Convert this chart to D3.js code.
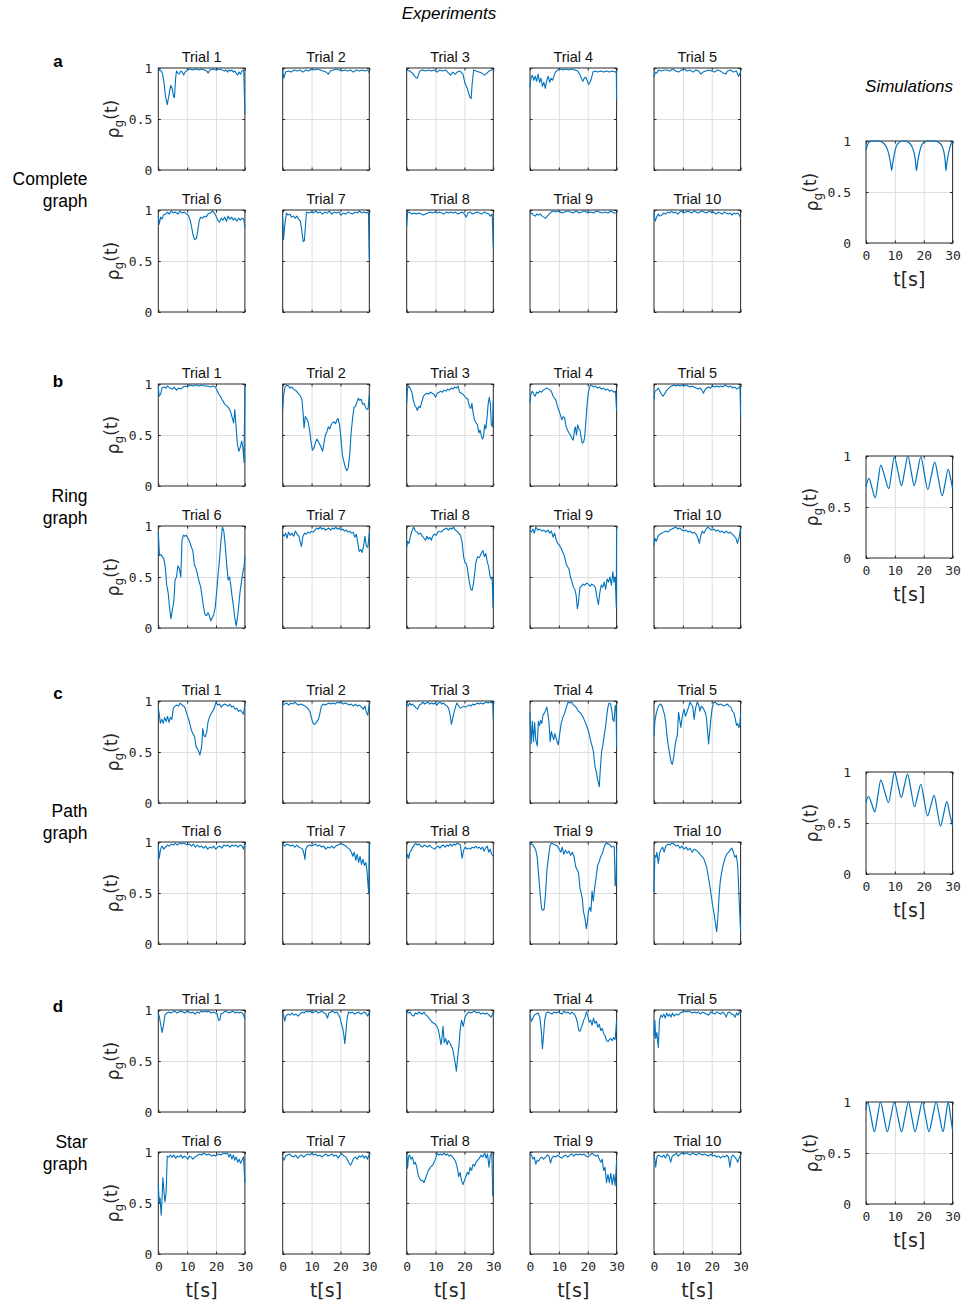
<!DOCTYPE html>
<html>
<head>
<meta charset="utf-8">
<script src="https://cdn.jsdelivr.net/npm/d3@7"></script>
<style>
  body { margin: 0; background: #fff; }
  svg { display: block; }
</style>
</head>
<body>
<div id="chart"></div>
<script>
// ---- data: [t (s), rho_g] ----
const xTicks = [0, 10, 20, 30];
const yTicks = [0, 0.5, 1];
const trialNames = d3.range(1, 11).map(i => "Trial " + i);
const graphNames = [["Complete", "graph"], ["Ring", "graph"], ["Path", "graph"], ["Star", "graph"]];
const panelLetters = ["a", "b", "c", "d"];

const completeTrials = [
  [[0,.97],[0.5,.98],[1,.97],[1.5,.94],[2,.85],[2.5,.72],[3.1,.64],[3.6,.72],[4.3,.83],[4.8,.8],[5.3,.72],[5.6,.71],[6,.9],[6.3,.97],[6.8,.95],[7.3,.94],[7.8,.97],[8.3,.96],[8.8,.93],[9.3,.96],[10,.98],[11,.99],[12,.98],[13,.99],[14,.98],[15,.99],[16,.98],[16.8,.97],[17.3,.95],[17.8,.98],[19,.99],[20,.98],[21,.99],[22,.98],[23,.97],[23.5,.98],[24,.96],[24.5,.98],[25,.97],[25.5,.98],[26,.96],[26.5,.97],[27,.95],[27.5,.93],[28,.96],[28.5,.94],[29,.97],[29.6,.98],[29.8,.75],[30,.55]],
  [[0,.97],[0.4,.9],[1,.96],[2,.97],[3,.96],[4,.98],[5,.97],[6,.98],[7,.96],[8,.98],[9,.97],[10,.99],[11,.98],[12,.99],[13,.98],[14,.97],[15,.96],[15.8,.94],[16.5,.97],[17.5,.98],[18.5,.99],[19.5,.98],[20.5,.97],[21.5,.98],[22.5,.97],[23.5,.98],[24.5,.96],[25.5,.98],[26.5,.97],[27.5,.98],[28.5,.97],[29.5,.98],[30,.95]],
  [[0,.98],[1,.97],[2,.95],[3,.91],[3.7,.9],[4.5,.97],[5.5,.98],[6.5,.97],[7.5,.98],[8.5,.97],[9.5,.98],[10.5,.96],[11.5,.98],[12.5,.97],[13.5,.98],[14.5,.95],[15.2,.93],[16,.96],[16.8,.94],[17.5,.96],[18.5,.97],[19.5,.94],[20.2,.85],[21,.8],[21.8,.72],[22.3,.7],[22.7,.85],[23.2,.98],[24,.97],[25,.96],[26,.95],[27,.93],[27.8,.95],[28.5,.97],[29.5,.98],[30,.99]],
  [[0,.81],[0.3,.9],[0.8,.93],[1.3,.88],[1.8,.92],[2.3,.87],[2.8,.94],[3.3,.86],[3.8,.9],[4.3,.82],[4.8,.86],[5.3,.8],[5.8,.88],[6.3,.92],[6.8,.86],[7.3,.9],[7.8,.88],[8.3,.92],[8.8,.96],[9.5,.98],[10.5,.99],[11.5,.98],[12.5,.99],[13.5,.98],[14.5,.99],[15.5,.98],[16.5,.97],[17.2,.94],[17.8,.9],[18.3,.87],[18.8,.9],[19.3,.91],[19.8,.88],[20.3,.84],[20.8,.86],[21.3,.9],[21.8,.96],[22.5,.97],[23.5,.96],[24.5,.97],[25.5,.96],[26.5,.97],[27.5,.96],[28.5,.97],[29.5,.96],[29.9,.97],[30,.68]],
  [[0,.91],[0.5,.96],[1,.95],[1.5,.98],[2.5,.97],[3.5,.98],[4.5,.98],[5.5,.97],[6.5,.99],[7.5,.97],[8.5,.96],[9.5,.98],[10.5,.99],[11.5,.97],[12.5,.98],[13.5,.96],[14.5,.98],[15.5,.97],[16.3,.94],[17,.96],[18,.97],[19,.98],[20,.97],[21,.96],[22,.98],[23,.97],[24,.95],[24.8,.94],[25.5,.97],[26.5,.98],[27.5,.96],[28.5,.97],[29.3,.92],[29.7,.94],[30,.97]],
  [[0,.94],[0.3,.86],[0.8,.93],[1.3,.91],[1.8,.95],[2.5,.96],[3.2,.98],[3.8,.96],[4.5,.99],[5.2,.97],[6,.98],[6.8,.96],[7.5,.99],[8.2,.97],[9,.98],[9.8,.96],[10.4,.95],[11,.9],[11.5,.84],[12,.76],[12.6,.71],[13.2,.72],[13.7,.8],[14.2,.9],[14.7,.93],[15.3,.92],[15.9,.94],[16.5,.93],[17.2,.96],[18,.97],[18.8,.99],[19.4,.97],[20,.94],[20.6,.9],[21.2,.88],[21.8,.92],[22.4,.9],[23,.93],[23.6,.89],[24.2,.94],[24.8,.91],[25.4,.93],[26,.9],[26.6,.92],[27.2,.89],[27.8,.92],[28.4,.9],[29,.92],[29.6,.91],[30,.83]],
  [[0,.93],[0.3,.71],[0.7,.85],[1.3,.97],[1.9,.95],[2.5,.96],[3.1,.93],[3.7,.94],[4.3,.92],[4.9,.94],[5.5,.91],[6.1,.89],[6.6,.8],[7.1,.69],[7.5,.7],[7.9,.85],[8.2,.98],[9,.97],[9.8,.98],[10.6,.97],[11.4,.99],[12.2,.97],[13,.98],[13.8,.96],[14.6,.98],[15.4,.97],[16.2,.99],[17,.96],[17.8,.98],[18.6,.97],[19.4,.98],[20.2,.95],[21,.97],[21.8,.96],[22.6,.98],[23.4,.97],[24.2,.96],[25,.98],[25.8,.97],[26.6,.99],[27.4,.97],[28.2,.98],[29,.97],[29.7,.98],[30,.52]],
  [[0,.84],[0.3,.97],[1,.98],[1.8,.96],[2.6,.97],[3.4,.96],[4.2,.97],[5,.96],[5.8,.95],[6.5,.96],[7.3,.97],[8.1,.98],[8.9,.97],[9.7,.98],[10.5,.97],[11.3,.98],[12.1,.97],[12.9,.96],[13.7,.98],[14.5,.97],[15.3,.98],[16.1,.97],[16.9,.98],[17.7,.96],[18.5,.97],[19.3,.98],[20,.96],[20.6,.93],[21.2,.97],[22,.98],[22.8,.96],[23.6,.97],[24.4,.98],[25.2,.97],[26,.96],[26.8,.98],[27.6,.97],[28.4,.96],[29,.94],[29.6,.96],[30,.64]],
  [[0,.96],[0.6,.97],[1.2,.95],[1.8,.94],[2.4,.96],[3,.95],[3.6,.96],[4.2,.94],[4.8,.93],[5.4,.92],[6,.94],[6.6,.96],[7.3,.98],[8,.99],[9,.98],[10,.99],[11,.97],[12,.98],[13,.99],[14,.98],[15,.97],[16,.99],[17,.97],[18,.98],[19,.99],[20,.97],[21,.98],[22,.97],[23,.99],[24,.98],[25,.97],[26,.98],[27,.97],[28,.99],[29,.97],[30,.97]],
  [[0,.97],[0.4,.89],[0.9,.93],[1.5,.96],[2.1,.94],[2.7,.95],[3.3,.97],[4,.96],[4.7,.98],[5.4,.97],[6.1,.99],[6.8,.97],[7.5,.98],[8.2,.96],[8.9,.98],[9.6,.99],[10.3,.97],[11,.98],[11.7,.99],[12.4,.98],[13.1,.97],[13.8,.99],[14.5,.98],[15.2,.97],[15.9,.98],[16.6,.99],[17.3,.98],[18,.97],[18.7,.98],[19.4,.99],[20.1,.97],[20.8,.98],[21.5,.96],[22.2,.98],[22.9,.97],[23.6,.96],[24.3,.98],[25,.97],[25.7,.96],[26.4,.97],[27,.95],[27.6,.97],[28.3,.96],[29,.97],[29.6,.95],[30,.92]]
];

const ringTrials = [
  [[0,.98],[0.3,.88],[0.8,.9],[1.3,.96],[2,.97],[2.6,.96],[3.2,.98],[4,.96],[4.8,.95],[5.5,.97],[6.3,.94],[7,.96],[7.8,.95],[8.5,.97],[9.3,.98],[10,.97],[11,.99],[12,.98],[13,.99],[14,.98],[15,.99],[16,.98],[17,.98],[18,.97],[19,.98],[19.8,.97],[20.4,.93],[21,.9],[21.5,.88],[22,.85],[22.5,.83],[23,.8],[23.5,.79],[24,.78],[24.5,.76],[25,.73],[25.5,.68],[26.1,.62],[26.5,.75],[26.9,.6],[27.4,.41],[27.9,.34],[28.4,.38],[28.9,.44],[29.3,.38],[29.7,.23],[30,.98]],
  [[0,.75],[0.3,.88],[0.8,.97],[1.4,.99],[2,.98],[2.6,.96],[3.2,.97],[3.8,.95],[4.4,.94],[5,.92],[5.6,.9],[6.2,.88],[6.7,.84],[7.1,.7],[7.4,.57],[7.8,.68],[8.3,.66],[8.8,.63],[9.3,.55],[9.8,.44],[10.3,.35],[10.8,.37],[11.3,.42],[11.8,.46],[12.3,.44],[12.8,.41],[13.3,.38],[13.8,.34],[14.3,.42],[14.8,.5],[15.3,.53],[15.8,.58],[16.3,.56],[16.8,.6],[17.3,.62],[17.8,.63],[18.3,.61],[18.8,.65],[19.2,.66],[19.7,.6],[20.2,.46],[20.7,.3],[21.2,.24],[21.7,.18],[22.2,.15],[22.7,.18],[23.2,.3],[23.7,.52],[24.2,.66],[24.7,.77],[25.2,.78],[25.7,.82],[26.2,.86],[26.7,.84],[27.2,.85],[27.7,.8],[28.2,.81],[28.7,.77],[29.2,.75],[29.6,.76],[30,.9]],
  [[0,.81],[0.3,.96],[0.8,.98],[1.3,.95],[1.8,.92],[2.3,.84],[2.8,.79],[3.3,.77],[3.7,.74],[4.2,.78],[4.7,.77],[5.2,.82],[5.8,.88],[6.4,.9],[7,.91],[7.6,.9],[8.2,.92],[8.8,.91],[9.5,.9],[10,.87],[10.6,.91],[11.2,.92],[11.8,.93],[12.4,.92],[13,.94],[13.6,.93],[14.2,.95],[14.8,.94],[15.4,.96],[16,.95],[16.6,.97],[17.2,.96],[17.8,.98],[18.3,.92],[18.9,.91],[19.5,.9],[20.1,.88],[20.7,.86],[21.2,.85],[21.7,.78],[22.2,.76],[22.6,.81],[23,.72],[23.5,.65],[24,.62],[24.5,.6],[25,.52],[25.4,.55],[25.8,.5],[26.2,.46],[26.6,.48],[27,.6],[27.4,.56],[27.8,.66],[28.2,.8],[28.6,.87],[29,.8],[29.3,.6],[29.7,.58],[30,.85]],
  [[0,.82],[0.3,.9],[0.8,.93],[1.3,.9],[1.8,.88],[2.3,.92],[2.8,.91],[3.4,.93],[4,.92],[4.6,.94],[5.2,.95],[5.8,.96],[6.4,.95],[7,.94],[7.5,.92],[8,.88],[8.5,.86],[9,.84],[9.5,.78],[10,.74],[10.5,.7],[11,.65],[11.5,.68],[12,.67],[12.5,.58],[13,.55],[13.5,.52],[14,.5],[14.5,.47],[15,.45],[15.4,.55],[15.7,.58],[16.1,.5],[16.5,.6],[16.9,.56],[17.3,.55],[17.7,.48],[18.1,.42],[18.6,.43],[19,.5],[19.4,.65],[19.8,.81],[20.3,.93],[20.8,.98],[21.3,.99],[22,.97],[22.7,.98],[23.4,.96],[24.1,.97],[24.8,.95],[25.5,.96],[26.2,.94],[26.9,.95],[27.6,.93],[28.3,.94],[29,.92],[29.6,.93],[30,.74]],
  [[0,.85],[0.3,.93],[0.9,.94],[1.5,.96],[2,.93],[2.6,.9],[3.1,.88],[3.6,.9],[4.2,.93],[4.8,.95],[5.5,.97],[6.2,.98],[6.9,.99],[7.6,.98],[8.3,.99],[9,.98],[9.7,.99],[10.4,.98],[11.1,.99],[11.8,.98],[12.5,.97],[13.2,.98],[13.9,.97],[14.6,.96],[15.3,.95],[16,.96],[16.6,.94],[17.1,.91],[17.6,.94],[18.2,.96],[18.9,.97],[19.6,.96],[20.3,.98],[21,.97],[21.7,.98],[22.4,.97],[23.1,.98],[23.8,.97],[24.5,.99],[25.2,.98],[25.9,.97],[26.6,.98],[27.3,.96],[28,.97],[28.7,.95],[29.3,.96],[29.8,.98],[30,.67]],
  [[0,.94],[0.4,.71],[0.9,.72],[1.4,.7],[1.9,.68],[2.4,.6],[2.9,.42],[3.4,.35],[3.9,.2],[4.4,.09],[4.9,.18],[5.4,.27],[5.8,.47],[6.3,.5],[6.8,.61],[7.3,.58],[7.8,.5],[8.2,.86],[8.7,.91],[9.2,.9],[9.7,.91],[10.3,.88],[10.8,.85],[11.4,.8],[12,.75],[12.5,.62],[13.1,.58],[13.6,.52],[14.2,.45],[14.7,.4],[15.2,.3],[15.7,.2],[16.2,.13],[16.7,.12],[17.2,.15],[17.7,.12],[18.2,.07],[18.7,.1],[19.2,.13],[19.7,.2],[20.2,.35],[20.7,.52],[21.2,.67],[21.7,.85],[22.2,.99],[22.7,.95],[23.2,.8],[23.7,.62],[24.2,.47],[24.7,.5],[25.1,.42],[25.6,.3],[26,.22],[26.5,.1],[27,.02],[27.4,.1],[27.8,.2],[28.3,.35],[28.8,.45],[29.3,.55],[29.7,.6],[30,.7]],
  [[0,.92],[0.5,.9],[1,.93],[1.5,.88],[2,.94],[2.6,.91],[3.2,.93],[3.8,.9],[4.4,.95],[5,.92],[5.6,.9],[6.1,.84],[6.5,.8],[7,.9],[7.6,.93],[8.2,.92],[8.8,.94],[9.4,.93],[10,.95],[10.6,.94],[11.2,.96],[11.8,.98],[12.4,.97],[13,.99],[13.6,.97],[14.2,.98],[14.8,.96],[15.4,.97],[16,.98],[16.6,.96],[17.2,.98],[17.8,.97],[18.4,.99],[19,.97],[19.6,.98],[20.2,.96],[20.8,.97],[21.4,.95],[22,.96],[22.6,.94],[23.2,.95],[23.8,.93],[24.4,.94],[25,.89],[25.5,.92],[26,.84],[26.5,.75],[27,.77],[27.5,.74],[28,.8],[28.5,.9],[29,.8],[29.5,.79],[30,.93]],
  [[0,.79],[0.3,.85],[0.8,.83],[1.3,.9],[1.8,.95],[2.4,.99],[3,.95],[3.6,.94],[4.2,.92],[4.8,.93],[5.4,.9],[6,.88],[6.5,.86],[7,.9],[7.5,.87],[8,.89],[8.5,.86],[9,.9],[9.6,.92],[10.2,.91],[10.8,.94],[11.4,.95],[12,.94],[12.6,.96],[13.2,.97],[13.8,.98],[14.4,.96],[15,.98],[15.6,.97],[16.2,.99],[16.8,.96],[17.4,.95],[18,.93],[18.6,.91],[19.2,.84],[19.7,.7],[20.2,.64],[20.7,.63],[21.2,.55],[21.7,.45],[22.2,.38],[22.7,.37],[23.2,.45],[23.6,.55],[24,.65],[24.6,.7],[25.2,.69],[25.8,.73],[26.4,.76],[26.9,.7],[27.4,.73],[27.9,.65],[28.4,.6],[28.9,.5],[29.3,.48],[29.6,.5],[29.9,.2],[30,.45]],
  [[0,.96],[0.5,.94],[1,.97],[1.5,.93],[2,.99],[2.7,.96],[3.4,.97],[4.1,.95],[4.8,.96],[5.5,.94],[6.2,.96],[6.8,.93],[7.4,.95],[8,.89],[8.5,.93],[9,.87],[9.6,.83],[10.2,.81],[10.8,.78],[11.4,.74],[12,.7],[12.5,.63],[13,.6],[13.5,.58],[14,.5],[14.5,.46],[15,.4],[15.5,.38],[16,.32],[16.4,.19],[16.8,.25],[17.3,.4],[17.8,.41],[18.4,.43],[19,.42],[19.6,.44],[20.2,.43],[20.8,.41],[21.4,.43],[22,.42],[22.6,.4],[23.2,.3],[23.7,.23],[24.2,.35],[24.7,.42],[25.2,.4],[25.7,.45],[26.2,.38],[26.7,.48],[27.2,.45],[27.7,.5],[28.2,.42],[28.7,.55],[29.1,.45],[29.5,.5],[29.9,.2],[30,.99]],
  [[0,.81],[0.3,.88],[0.8,.85],[1.4,.9],[2,.92],[2.7,.93],[3.4,.94],[4.1,.95],[4.8,.94],[5.5,.96],[6.2,.97],[6.9,.98],[7.6,.99],[8.3,.97],[9,.98],[9.7,.96],[10.4,.95],[11.1,.96],[11.8,.94],[12.5,.95],[13.2,.93],[13.9,.94],[14.6,.92],[15.2,.88],[15.7,.83],[16.2,.9],[16.7,.95],[17.3,.93],[18,.97],[18.7,.99],[19.4,.97],[20.1,.96],[20.8,.97],[21.5,.95],[22.2,.96],[22.9,.94],[23.6,.95],[24.3,.93],[25,.95],[25.7,.93],[26.4,.94],[27.1,.92],[27.8,.9],[28.4,.88],[28.9,.83],[29.4,.88],[29.7,.92],[30,.99]]
];

const pathTrials = [
  [[0,.93],[0.3,.88],[0.7,.78],[1.2,.82],[1.7,.78],[2.2,.84],[2.7,.8],[3.2,.85],[3.7,.79],[4.2,.84],[4.7,.82],[5.2,.93],[5.8,.95],[6.4,.96],[7,.95],[7.6,.98],[8.2,.96],[8.8,.95],[9.3,.93],[9.8,.88],[10.3,.84],[10.9,.78],[11.5,.71],[12,.68],[12.6,.65],[13.1,.55],[13.6,.53],[14.1,.5],[14.4,.47],[14.8,.52],[15.1,.58],[15.4,.73],[15.8,.66],[16.3,.65],[16.8,.7],[17.2,.79],[17.7,.84],[18.2,.87],[18.8,.9],[19.4,.93],[20,.99],[20.6,.96],[21.2,.97],[21.8,.94],[22.4,.96],[23,.97],[23.6,.96],[24.2,.95],[24.8,.97],[25.4,.94],[26,.95],[26.6,.92],[27.2,.93],[27.8,.9],[28.4,.91],[29,.89],[29.5,.87],[30,.97]],
  [[0,.96],[0.7,.97],[1.4,.98],[2.1,.96],[2.8,.98],[3.5,.97],[4.2,.99],[4.9,.97],[5.6,.96],[6.3,.97],[7,.96],[7.7,.95],[8.3,.94],[8.9,.92],[9.4,.9],[9.9,.84],[10.4,.79],[10.9,.77],[11.4,.78],[11.9,.8],[12.4,.82],[12.9,.88],[13.4,.95],[14,.97],[14.7,.96],[15.4,.97],[16.1,.98],[16.8,.97],[17.5,.98],[18.2,.97],[18.9,.99],[19.6,.98],[20.3,.99],[21,.97],[21.7,.98],[22.4,.97],[23.1,.96],[23.8,.97],[24.5,.95],[25.2,.97],[25.9,.95],[26.6,.96],[27.3,.94],[27.9,.92],[28.5,.95],[29,.89],[29.5,.86],[30,.98]],
  [[0,.97],[0.5,.95],[1,.98],[1.5,.96],[2,.97],[2.7,.95],[3.3,.93],[3.8,.92],[4.4,.96],[5,.97],[5.6,.99],[6.2,.97],[6.8,.98],[7.4,.99],[8,.97],[8.6,.98],[9.2,.97],[9.8,.98],[10.4,.96],[11,.98],[11.6,.99],[12.2,.97],[12.8,.98],[13.4,.96],[14,.95],[14.5,.93],[15,.87],[15.5,.77],[16,.84],[16.5,.9],[17,.95],[17.4,.98],[18,.95],[18.6,.93],[19.2,.94],[19.8,.95],[20.4,.94],[21,.95],[21.6,.96],[22.2,.95],[22.8,.97],[23.4,.96],[24,.97],[24.6,.98],[25.2,.97],[25.8,.98],[26.4,.97],[27,.98],[27.6,.99],[28.2,.98],[28.8,.99],[29.5,.98],[29.8,.99],[30,.83]],
  [[0,.89],[0.4,.58],[0.8,.8],[1.2,.6],[1.6,.79],[2,.62],[2.5,.56],[2.9,.8],[3.3,.76],[3.7,.81],[4.1,.78],[4.5,.86],[4.9,.88],[5.3,.9],[5.8,.94],[6.2,.88],[6.6,.78],[7,.6],[7.4,.7],[7.8,.66],[8.2,.62],[8.6,.68],[9,.64],[9.4,.6],[9.8,.57],[10.3,.68],[10.8,.78],[11.4,.84],[12,.88],[12.6,.94],[13.2,.99],[13.8,.98],[14.4,.99],[15,.96],[15.6,.95],[16.2,.93],[16.7,.9],[17.2,.89],[17.8,.87],[18.4,.84],[19,.8],[19.6,.76],[20.2,.71],[20.7,.65],[21.1,.6],[21.6,.55],[22,.5],[22.5,.36],[23,.3],[23.5,.22],[24,.16],[24.4,.35],[24.8,.5],[25.3,.58],[25.8,.68],[26.2,.75],[26.6,.86],[27,.94],[27.4,.98],[27.9,.97],[28.3,.92],[28.7,.82],[29.1,.8],[29.5,.95],[29.8,.96],[30,.55]],
  [[0,.66],[0.3,.8],[0.8,.88],[1.3,.93],[1.8,.96],[2.3,.97],[2.8,.95],[3.3,.9],[3.7,.86],[4.1,.78],[4.5,.66],[5,.55],[5.5,.47],[6,.39],[6.4,.38],[6.8,.45],[7.3,.56],[7.7,.63],[8.1,.66],[8.5,.89],[8.9,.82],[9.3,.74],[9.8,.85],[10.4,.92],[10.9,.85],[11.5,.9],[12.1,.95],[12.5,.99],[13,.96],[13.4,.95],[13.9,.82],[14.4,.93],[15,.99],[15.5,.96],[15.9,.9],[16.4,.95],[17,.93],[17.6,.9],[18.1,.85],[18.5,.72],[18.9,.58],[19.3,.7],[19.7,.82],[20.1,.92],[20.6,.98],[21.2,.99],[21.8,.97],[22.4,.96],[23,.97],[23.6,.96],[24.2,.95],[24.8,.96],[25.4,.97],[26,.95],[26.6,.94],[27.2,.9],[27.7,.88],[28.2,.82],[28.6,.76],[29,.78],[29.4,.74],[29.7,.76],[30,.88]],
  [[0,.96],[0.3,.84],[0.8,.93],[1.3,.96],[1.9,.93],[2.5,.95],[3.1,.97],[3.8,.96],[4.5,.98],[5.2,.97],[5.9,.99],[6.6,.97],[7.3,.99],[8,.98],[8.7,.99],[9.4,.98],[10.1,.97],[10.8,.98],[11.5,.96],[12.2,.98],[12.9,.95],[13.6,.97],[14.3,.95],[15,.96],[15.7,.94],[16.4,.96],[17.1,.93],[17.8,.95],[18.5,.94],[19.2,.96],[19.9,.93],[20.6,.95],[21.3,.96],[22,.94],[22.7,.97],[23.4,.96],[24.1,.97],[24.8,.95],[25.5,.97],[26.2,.96],[26.9,.97],[27.6,.95],[28.3,.97],[29,.96],[29.5,.93],[30,.99]],
  [[0,.98],[0.7,.96],[1.4,.98],[2.1,.97],[2.8,.96],[3.5,.97],[4.2,.95],[4.9,.97],[5.6,.95],[6.3,.94],[6.9,.93],[7.4,.88],[7.7,.83],[8,.93],[8.6,.96],[9.3,.97],[10,.96],[10.7,.97],[11.4,.98],[12.1,.96],[12.8,.97],[13.5,.95],[14.2,.96],[14.9,.93],[15.6,.95],[16.3,.94],[17,.96],[17.7,.94],[18.4,.96],[19.1,.97],[19.8,.98],[20.5,.98],[21.2,.97],[21.9,.96],[22.6,.94],[23.2,.93],[23.8,.9],[24.3,.86],[24.8,.9],[25.3,.82],[25.8,.88],[26.3,.8],[26.8,.86],[27.3,.78],[27.8,.83],[28.3,.77],[28.8,.8],[29.2,.72],[29.5,.6],[29.8,.49],[30,.99]],
  [[0,.84],[0.3,.88],[0.7,.84],[1.1,.9],[1.6,.92],[2.1,.95],[2.6,.97],[3.1,.99],[3.7,.97],[4.3,.98],[4.9,.96],[5.5,.95],[6.1,.97],[6.7,.96],[7.3,.95],[7.9,.97],[8.5,.95],[9.1,.94],[9.7,.93],[10.3,.95],[10.9,.96],[11.5,.94],[12.1,.96],[12.7,.97],[13.3,.95],[13.9,.97],[14.5,.96],[15.1,.98],[15.7,.96],[16.3,.98],[16.9,.97],[17.5,.99],[18.1,.98],[18.6,.97],[19.2,.84],[19.7,.92],[20.3,.95],[20.9,.93],[21.5,.94],[22.1,.93],[22.7,.95],[23.3,.94],[23.9,.96],[24.5,.94],[25.1,.95],[25.7,.93],[26.3,.95],[26.8,.91],[27.3,.94],[27.9,.96],[28.4,.9],[28.9,.93],[29.4,.88],[30,.86]],
  [[0,.99],[0.5,.98],[1,.97],[1.5,.95],[2,.92],[2.5,.85],[3,.67],[3.5,.5],[4,.35],[4.4,.33],[4.9,.34],[5.4,.5],[5.9,.74],[6.4,.85],[6.9,.96],[7.4,.99],[8.1,.98],[8.8,.97],[9.5,.96],[10.1,.93],[10.7,.9],[11.2,.95],[11.7,.88],[12.3,.92],[12.9,.89],[13.5,.91],[14.1,.87],[14.7,.9],[15.3,.85],[15.8,.76],[16.3,.73],[16.8,.7],[17.3,.55],[17.7,.5],[18.1,.45],[18.5,.32],[18.9,.27],[19.2,.22],[19.5,.15],[19.9,.22],[20.3,.33],[20.7,.36],[21.1,.32],[21.5,.52],[21.9,.42],[22.4,.55],[22.9,.65],[23.4,.77],[23.9,.8],[24.4,.85],[24.9,.88],[25.4,.92],[25.9,.97],[26.5,.99],[27.1,.98],[27.7,.97],[28.3,.95],[28.8,.96],[29.2,.95],[29.5,.57],[29.8,.6],[30,.93]],
  [[0,.51],[0.3,.87],[0.7,.85],[1,.9],[1.5,.79],[2,.9],[2.5,.93],[3,.95],[3.5,.9],[4.1,.96],[4.8,.98],[5.5,.97],[6.2,.99],[6.9,.98],[7.6,.96],[8.3,.97],[9,.94],[9.7,.96],[10.4,.93],[11.1,.95],[11.8,.92],[12.5,.94],[13.2,.9],[13.9,.93],[14.6,.92],[15.3,.9],[16,.88],[16.6,.86],[17.2,.84],[17.8,.79],[18.3,.75],[18.8,.66],[19.3,.58],[19.8,.48],[20.3,.38],[20.8,.3],[21.3,.2],[21.7,.12],[22.1,.25],[22.5,.45],[22.9,.6],[23.4,.7],[24,.78],[24.6,.84],[25.2,.88],[25.8,.9],[26.4,.92],[27,.94],[27.5,.9],[28,.85],[28.5,.87],[29,.77],[29.4,.5],[29.7,.3],[30,.12]]
];

const starTrials = [
  [[0,.97],[0.4,.93],[0.8,.86],[1.3,.78],[1.8,.85],[2.3,.95],[2.9,.97],[3.6,.98],[4.3,.97],[5,.98],[5.7,.99],[6.4,.97],[7.1,.98],[7.8,.99],[8.5,.98],[9.2,.97],[9.9,.99],[10.6,.98],[11.3,.97],[12,.98],[12.7,.96],[13.4,.98],[14.1,.97],[14.8,.99],[15.5,.98],[16.2,.99],[16.9,.98],[17.6,.99],[18.3,.97],[19,.98],[19.7,.97],[20.4,.96],[20.9,.9],[21.3,.9],[21.7,.96],[22.4,.97],[23.1,.99],[23.8,.98],[24.5,.97],[25.2,.98],[25.9,.99],[26.6,.97],[27.3,.98],[28,.97],[28.7,.98],[29.4,.96],[30,.91]],
  [[0,.97],[0.3,.95],[0.7,.89],[1.1,.94],[1.8,.96],[2.5,.95],[3.2,.97],[3.9,.95],[4.6,.96],[5.3,.94],[6,.96],[6.7,.98],[7.4,.97],[8.1,.99],[8.8,.98],[9.5,.99],[10.2,.97],[10.9,.98],[11.6,.99],[12.3,.97],[13,.98],[13.7,.99],[14.4,.97],[15,.96],[15.5,.92],[16,.97],[16.7,.98],[17.4,.99],[18.1,.97],[18.8,.98],[19.4,.95],[19.9,.92],[20.3,.87],[20.8,.82],[21.2,.75],[21.5,.67],[21.9,.78],[22.3,.92],[22.8,.98],[23.5,.97],[24.2,.98],[24.9,.96],[25.6,.97],[26.3,.98],[27,.96],[27.7,.97],[28.4,.98],[29,.96],[29.5,.94],[30,.98]],
  [[0,.98],[0.6,.97],[1.2,.98],[1.8,.95],[2.4,.94],[3,.97],[3.6,.96],[4.2,.98],[4.8,.97],[5.4,.96],[6,.98],[6.6,.95],[7.2,.94],[7.7,.92],[8.3,.9],[8.8,.88],[9.4,.87],[9.9,.86],[10.5,.84],[11,.8],[11.4,.74],[11.9,.66],[12.2,.72],[12.6,.84],[13,.68],[13.5,.72],[14,.66],[14.4,.7],[14.9,.68],[15.4,.65],[15.9,.62],[16.3,.56],[16.7,.5],[17.2,.4],[17.6,.52],[18.1,.65],[18.5,.8],[19,.9],[19.6,.84],[20.2,.93],[20.8,.96],[21.5,.98],[22.2,.97],[22.9,.98],[23.6,.99],[24.3,.97],[25,.98],[25.7,.96],[26.4,.97],[27.1,.96],[27.8,.97],[28.5,.95],[29.2,.93],[29.6,.95],[30,.98]],
  [[0,.95],[0.5,.89],[1,.92],[1.5,.95],[2.1,.96],[2.8,.97],[3.4,.93],[3.9,.8],[4.3,.62],[4.7,.75],[5.1,.9],[5.6,.97],[6.2,.98],[6.9,.97],[7.6,.96],[8.3,.98],[9,.97],[9.7,.98],[10.4,.97],[11.1,.96],[11.8,.99],[12.5,.97],[13.2,.98],[13.9,.96],[14.6,.98],[15.3,.96],[15.9,.93],[16.4,.88],[16.9,.8],[17.3,.79],[17.7,.82],[18.2,.86],[18.6,.9],[19.1,.93],[19.5,.98],[20,.95],[20.5,.88],[21,.9],[21.5,.85],[22,.92],[22.5,.87],[23,.89],[23.5,.83],[24,.86],[24.5,.8],[25,.82],[25.5,.77],[26,.75],[26.5,.7],[27,.69],[27.5,.71],[28,.72],[28.5,.7],[29,.73],[29.5,.71],[30,.9]],
  [[0,.74],[0.3,.9],[0.6,.72],[1,.78],[1.5,.63],[1.9,.9],[2.4,.95],[2.9,.93],[3.4,.96],[3.9,.92],[4.4,.97],[4.9,.94],[5.4,.96],[5.9,.93],[6.4,.97],[7,.94],[7.7,.96],[8.4,.95],[9.1,.97],[9.8,.98],[10.5,.99],[11.2,.98],[11.9,.99],[12.6,.98],[13.3,.97],[14,.98],[14.7,.97],[15.4,.98],[16.1,.96],[16.8,.98],[17.5,.97],[18.2,.96],[18.9,.95],[19.6,.98],[20.3,.97],[21,.96],[21.7,.98],[22.4,.97],[23.1,.96],[23.8,.98],[24.5,.96],[25,.93],[25.5,.97],[26.2,.98],[26.9,.96],[27.6,.95],[28.1,.93],[28.6,.97],[29.1,.95],[29.6,.98],[30,.96]],
  [[0,.7],[0.3,.5],[0.6,.55],[1,.38],[1.3,.55],[1.6,.75],[2,.6],[2.3,.51],[2.7,.6],[3.1,.96],[3.6,.95],[4.2,.97],[4.8,.95],[5.4,.97],[6,.94],[6.6,.96],[7.2,.95],[7.8,.97],[8.4,.94],[9,.96],[9.6,.95],[10.2,.93],[10.8,.96],[11.4,.95],[12,.93],[12.6,.95],[13.2,.96],[13.8,.97],[14.4,.98],[15,.97],[15.6,.99],[16.2,.98],[16.8,.97],[17.4,.98],[18,.97],[18.6,.96],[19.2,.97],[19.8,.96],[20.4,.97],[21,.98],[21.6,.97],[22.2,.98],[22.8,.99],[23.4,.98],[24,.99],[24.5,.95],[25,.98],[25.5,.93],[26,.97],[26.5,.92],[27,.95],[27.5,.9],[28,.93],[28.5,.89],[29,.92],[29.5,.95],[30,.7]],
  [[0,.95],[0.5,.92],[1,.96],[1.7,.97],[2.4,.98],[3.1,.96],[3.8,.95],[4.5,.97],[5.2,.94],[5.9,.96],[6.6,.97],[7.3,.95],[8,.97],[8.7,.98],[9.4,.97],[10.1,.99],[10.8,.97],[11.5,.98],[12.2,.96],[12.9,.97],[13.6,.95],[14.3,.97],[15,.98],[15.7,.96],[16.4,.97],[17.1,.98],[17.8,.96],[18.5,.97],[19.2,.94],[19.9,.97],[20.6,.98],[21.3,.96],[21.9,.95],[22.5,.92],[23,.89],[23.5,.87],[24,.9],[24.6,.94],[25.2,.95],[25.8,.93],[26.4,.96],[27,.95],[27.6,.97],[28.2,.94],[28.8,.96],[29.4,.93],[30,.98]],
  [[0,.98],[0.3,.84],[0.6,.95],[1,.97],[1.5,.93],[2,.95],[2.5,.88],[3,.9],[3.5,.85],[4,.77],[4.5,.74],[5,.72],[5.5,.72],[6,.7],[6.5,.74],[7,.78],[7.5,.82],[8,.84],[8.5,.86],[9,.87],[9.5,.9],[10,.93],[10.5,.99],[11.1,.97],[11.7,.98],[12.3,.97],[12.9,.99],[13.5,.97],[14.1,.98],[14.7,.96],[15.3,.97],[15.9,.95],[16.5,.93],[17,.9],[17.5,.85],[18,.76],[18.5,.8],[19,.72],[19.5,.68],[20,.72],[20.5,.76],[21,.8],[21.5,.78],[22,.85],[22.5,.82],[23,.88],[23.5,.86],[24,.9],[24.6,.92],[25.2,.94],[25.8,.97],[26.4,.95],[27,.99],[27.5,.94],[28,.98],[28.5,.85],[29,.97],[29.5,.99],[29.8,.57],[30,.6]],
  [[0,.99],[0.5,.97],[1,.93],[1.5,.95],[2,.88],[2.5,.92],[3,.91],[3.5,.94],[4,.95],[4.7,.93],[5.4,.95],[6,.97],[6.6,.96],[7.1,.89],[7.6,.94],[8.2,.96],[8.9,.95],[9.6,.97],[10.3,.95],[11,.94],[11.7,.96],[12.4,.97],[13.1,.95],[13.8,.97],[14.5,.98],[15.2,.96],[15.9,.98],[16.6,.97],[17.3,.98],[18,.97],[18.7,.98],[19.4,.96],[20.1,.95],[20.8,.97],[21.5,.99],[22.2,.97],[22.9,.96],[23.5,.97],[24,.93],[24.5,.9],[25,.93],[25.5,.82],[26,.85],[26.5,.7],[27,.78],[27.5,.7],[28,.79],[28.5,.68],[29,.78],[29.5,.67],[30,.92]],
  [[0,.97],[0.3,.93],[0.6,.85],[1,.95],[1.5,.97],[2.1,.96],[2.8,.95],[3.4,.97],[4,.94],[4.6,.98],[5.2,.96],[5.8,.9],[6.3,.96],[7,.97],[7.7,.99],[8.4,.96],[9.1,.98],[9.8,.99],[10.5,.98],[11.2,.99],[11.9,.98],[12.6,.97],[13.3,.99],[14,.98],[14.7,.97],[15.4,.99],[16.1,.98],[16.8,.97],[17.5,.98],[18.2,.97],[18.9,.96],[19.6,.98],[20.3,.96],[21,.97],[21.7,.95],[22.4,.96],[23.1,.94],[23.8,.96],[24.5,.95],[25.2,.97],[25.8,.95],[26.3,.85],[26.8,.95],[27.4,.97],[28,.95],[28.5,.93],[29,.9],[29.5,.94],[30,.97]]
];

const simComplete = [[0,.91],[0.5,.96],[1,.985],[1.5,.995],[2,1],[3,1],[4,1],[5,.995],[5.5,.99],[6,.98],[6.5,.965],[7,.945],[7.5,.91],[8,.86],[8.4,.8],[8.7,.75],[8.9,.71],[9.1,.75],[9.4,.81],[9.8,.87],[10.2,.92],[10.7,.96],[11.2,.98],[11.8,.993],[12.5,1],[13.5,1],[14,.995],[14.5,.99],[15,.98],[15.5,.965],[16,.94],[16.5,.9],[16.9,.85],[17.2,.78],[17.5,.71],[17.7,.75],[18,.81],[18.4,.87],[18.8,.92],[19.3,.96],[19.8,.98],[20.5,.993],[21.5,1],[22.5,1],[23.5,1],[24.5,.995],[25,.99],[25.5,.98],[26,.965],[26.5,.94],[27,.89],[27.4,.81],[27.7,.71],[27.9,.76],[28.2,.82],[28.6,.88],[29,.93],[29.5,.97],[30,.99]];
const simRing = [[0,.7],[1,.78],[2.1,.685],[3.2,.59],[4.15,.75],[5.1,.91],[6.5,.795],[7.9,.68],[8.85,.835],[9.8,.99],[11.05,.85],[12.3,.71],[13.4,.855],[14.5,1],[15.6,.855],[16.7,.71],[17.85,.85],[19,.99],[20.2,.83],[21.4,.67],[22.6,.805],[23.8,.94],[25.1,.775],[26.4,.61],[27.45,.74],[28.5,.87],[29.3,.78],[30,.68]];
const simPath = [[0,.7],[0.9,.76],[2,.685],[3.1,.61],[4.1,.765],[5.1,.92],[6.45,.81],[7.8,.7],[8.85,.85],[9.9,1],[11.05,.875],[12.2,.75],[13.3,.865],[14.4,.98],[15.6,.82],[16.8,.66],[17.9,.77],[19,.88],[20.15,.725],[21.3,.57],[22.45,.67],[23.6,.77],[24.7,.62],[25.8,.47],[26.9,.59],[28,.71],[29,.59],[30,.47]];
const simStar = [[0,.92],[0.6,1],[1.75,.855],[2.9,.71],[3.95,.855],[5,1],[6.2,.855],[7.4,.71],[8.6,.855],[9.8,1],[11.05,.855],[12.3,.71],[13.5,.855],[14.7,1],[15.85,.855],[17,.71],[18.25,.855],[19.5,1],[20.65,.855],[21.8,.71],[23.05,.855],[24.3,1],[25.5,.855],[26.7,.71],[27.6,.855],[28.5,1],[29.3,.855],[30,.72]];

const groups = [completeTrials, ringTrials, pathTrials, starTrials];
const sims = [simComplete, simRing, simPath, simStar];

// ---- layout ----
const width = 961, height = 1308;
const W = 86.6, H = 102;
const colLeft = [158.3, 282.7, 406.7, 530, 654];
const rowTops = [[68, 210], [384, 526], [701, 842], [1010, 1152]];
const simLeft = 866, simTops = [141, 456, 772, 1102];
const groupLabelY = [184.5, 501.5, 817, 1147.5];
const letterY = [67, 386.5, 699, 1012];

const axisColor = "#262626", gridColor = "#dedede", lineColor = "#0072BD";
const monoFont = "'DejaVu Sans Mono', monospace";
const sansFont = "'Liberation Sans', Arial, sans-serif";

const svg = d3.select("#chart").append("svg")
  .attr("width", width).attr("height", height)
  .style("background", "#fff");

function drawPanel(left, top, series, o) {
  const x = d3.scaleLinear().domain([0, 30]).range([left, left + W]);
  const y = d3.scaleLinear().domain([0, 1]).range([top + H, top]);
  const g = svg.append("g");

  // grid
  g.append("g").attr("transform", `translate(0,${top})`)
    .call(d3.axisBottom(x).tickValues([10, 20]).tickSize(H).tickFormat(""))
    .call(s => s.select(".domain").remove())
    .selectAll("line").attr("stroke", gridColor);
  g.append("g").attr("transform", `translate(${left},0)`)
    .call(d3.axisRight(y).tickValues([0.5]).tickSize(W).tickFormat(""))
    .call(s => s.select(".domain").remove())
    .selectAll("line").attr("stroke", gridColor);

  // box
  g.append("rect").attr("x", left).attr("y", top).attr("width", W).attr("height", H)
    .attr("fill", "none").attr("stroke", axisColor).attr("stroke-width", 1);

  // inward ticks on all sides
  g.append("g").attr("transform", `translate(${left},0)`)
    .call(d3.axisLeft(y).tickValues(yTicks).tickSize(-2.5).tickPadding(o.yPad)
      .tickFormat(o.yLabels ? d3.format("~g") : ""));
  g.append("g").attr("transform", `translate(${left + W},0)`)
    .call(d3.axisRight(y).tickValues(yTicks).tickSize(-2.5).tickFormat(""));
  g.append("g").attr("transform", `translate(0,${top + H})`)
    .call(d3.axisBottom(x).tickValues(xTicks).tickSize(-2.5).tickPadding(8)
      .tickFormat(o.xLabels ? d3.format("d") : ""));
  g.append("g").attr("transform", `translate(0,${top})`)
    .call(d3.axisTop(x).tickValues(xTicks).tickSize(-2.5).tickFormat(""));
  g.selectAll(".domain").remove();
  g.selectAll(".tick line").filter(function () { return this.getAttribute("stroke") !== gridColor; })
    .attr("stroke", axisColor);
  g.selectAll(".tick text").attr("font-family", monoFont).attr("font-size", 13).attr("fill", axisColor);

  // data line
  g.append("path").datum(series)
    .attr("fill", "none").attr("stroke", lineColor).attr("stroke-width", o.lw || 1.1)
    .attr("stroke-linejoin", "round")
    .attr("d", d3.line().x(d => x(d[0])).y(d => y(d[1])).curve(o.curve || d3.curveLinear));

  if (o.title) {
    svg.append("text").attr("x", left + W / 2).attr("y", top - 6.5)
      .attr("text-anchor", "middle").attr("font-family", sansFont).attr("font-size", 14.5)
      .attr("fill", "#111").text(o.title);
  }
  if (o.ylabelX) {
    const t = svg.append("text")
      .attr("transform", `translate(${o.ylabelX},${top + H / 2}) rotate(-90)`)
      .attr("text-anchor", "middle").attr("dy", "0.35em")
      .attr("font-family", "'DejaVu Sans', sans-serif").attr("font-size", 17).attr("fill", axisColor);
    t.append("tspan").text("ρ");
    t.append("tspan").attr("font-size", 12).attr("dy", "0.3em").text("g");
    t.append("tspan").attr("dy", "-0.3em").text("(t)");
  }
  if (o.xLabels) {
    svg.append("text").attr("x", left + W / 2).attr("y", top + H + 43)
      .attr("text-anchor", "middle").attr("font-family", "'DejaVu Sans', sans-serif")
      .attr("font-size", 19).attr("fill", axisColor).text("t[s]");
  }
}

// experiments
groups.forEach((trials, gi) => {
  trials.forEach((series, ti) => {
    const row = Math.floor(ti / 5), col = ti % 5;
    drawPanel(colLeft[col], rowTops[gi][row], series, {
      title: trialNames[ti],
      yLabels: col === 0, yPad: 6,
      xLabels: gi === 3 && row === 1,
      ylabelX: col === 0 ? 113 : null
    });
  });

  svg.append("text").attr("x", 58).attr("y", letterY[gi])
    .attr("text-anchor", "middle").attr("font-family", sansFont).attr("font-weight", "bold")
    .attr("font-size", 17).attr("fill", "#000").text(panelLetters[gi]);

  graphNames[gi].forEach((line, li) => {
    svg.append("text").attr("x", 87.5).attr("y", groupLabelY[gi] + li * 22)
      .attr("text-anchor", "end").attr("font-family", sansFont).attr("font-size", 17.5)
      .attr("fill", "#000").text(line);
  });
});

// simulations
sims.forEach((series, si) => {
  drawPanel(simLeft, simTops[si], series, {
    yLabels: true, yPad: 15, xLabels: true, ylabelX: 812,
    curve: d3.curveMonotoneX, lw: 1.2
  });
});

svg.append("text").attr("x", 449).attr("y", 18.5).attr("text-anchor", "middle")
  .attr("font-family", sansFont).attr("font-style", "italic").attr("font-size", 17)
  .attr("fill", "#000").text("Experiments");
svg.append("text").attr("x", 909).attr("y", 92).attr("text-anchor", "middle")
  .attr("font-family", sansFont).attr("font-style", "italic").attr("font-size", 17)
  .attr("fill", "#000").text("Simulations");
</script>
</body>
</html>
